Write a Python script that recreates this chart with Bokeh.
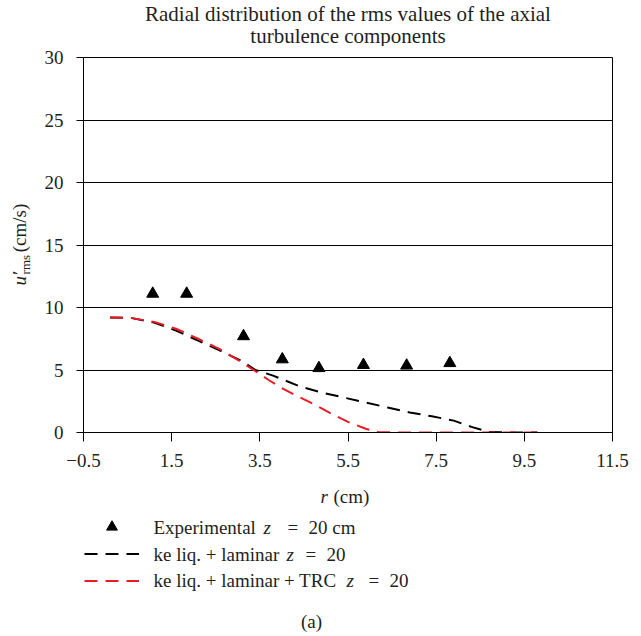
import math
from bokeh.plotting import figure
from bokeh.layouts import column, row
from bokeh.models import Range1d, Label, Legend, LegendItem, FixedTicker
from bokeh.core.properties import value
from bokeh.embed import file_html
from bokeh.resources import INLINE

# ---------------- data ----------------
exp_r = [1.07, 1.84, 3.13, 4.01, 4.84, 5.85, 6.83, 7.81]
exp_u = [11.1, 11.1, 7.7, 5.85, 5.15, 5.4, 5.35, 5.55]

lam_r = [0.1, 0.6, 1.1, 1.6, 2.1, 2.6, 3.1, 3.4, 3.8, 4.4, 4.9, 5.4, 5.9, 6.4,
         6.9, 7.4, 7.9, 8.3, 8.7, 9.1, 9.5, 9.8]
lam_u = [9.2, 9.15, 8.8, 8.15, 7.35, 6.55, 5.7, 5.0, 4.55, 3.7, 3.2, 2.8, 2.4, 2.0,
         1.6, 1.3, 0.95, 0.45, 0.05, 0.0, 0.0, 0.0]

trc_r = [0.1, 0.6, 1.1, 1.6, 2.1, 2.6, 3.1, 3.4, 3.7, 4.0, 4.3, 4.7, 5.1, 5.5,
         5.9, 6.2, 6.6, 7.5, 8.5, 9.8]
trc_u = [9.2, 9.15, 8.85, 8.3, 7.5, 6.65, 5.6, 4.9, 4.2, 3.55, 3.0, 2.3, 1.55, 0.85,
         0.3, 0.03, 0.0, 0.0, 0.0, 0.0]

x_ticks = [-0.5, 1.5, 3.5, 5.5, 7.5, 9.5, 11.5]
x_tick_labels = ["\u22120.5", "1.5", "3.5", "5.5", "7.5", "9.5", "11.5"]
y_ticks = [0, 5, 10, 15, 20, 25, 30]

title_lines = ["Radial distribution of the rms values of the axial",
               "turbulence components"]
legend_rows = [
    [("Experimental", 0, "normal"), ("z", 110, "italic"), ("=", 134, "normal"), ("20 cm", 155, "normal")],
    [("ke liq. + laminar", 0, "normal"), ("z", 133, "italic"), ("=", 152, "normal"), ("20", 173, "normal")],
    [("ke liq. + laminar + TRC", 0, "normal"), ("z", 193, "italic"), ("=", 215, "normal"), ("20", 236, "normal")],
]

# ---------------- layout (page pixels) ----------------
FONT = "Liberation Serif"
TXT = "#231f20"
RED = "#ed1c24"
W, H = 640, 634
FL, FR, FT, FB = 83, 612, 57, 432      # plot frame edges
TOP_H = 46                              # title strip height
YL_W = 40                               # y-label strip width
MAIN_BOTTOM = 43                        # tick-label room below frame
MAIN_H = (FB - TOP_H) + MAIN_BOTTOM
BOT_Y0 = TOP_H + MAIN_H                 # page y where bottom strip starts
BOT_H = H - BOT_Y0


def strip(width, height, x0, y0):
    """Axis-less figure whose data coordinates equal page pixels."""
    f = figure(width=width, height=height,
               x_range=Range1d(x0, x0 + width), y_range=Range1d(y0 + height, y0),
               x_axis_type=None, y_axis_type=None, output_backend="svg",
               toolbar_location=None, min_border=0)
    f.outline_line_color = None
    f.background_fill_color = "white"
    f.border_fill_color = "white"
    return f


def txt(f, x, y, text, size="19px", style="normal", align="left"):
    f.add_layout(Label(x=x, y=y, text=text, text_font=FONT, text_font_size=size,
                       text_font_style=style, text_color=TXT, text_align=align,
                       text_baseline="middle"))


# ---- title strip ----
top = strip(W, TOP_H, 0, 0)
for line, cy in zip(title_lines, [13, 35]):
    txt(top, (FL + FR) / 2, cy, line, size="21px", align="center")

# ---- y-label strip (rotated text glyphs, centre anchored) ----
ylab = strip(YL_W, MAIN_H, 0, TOP_H)
A = math.pi / 2
ylab_parts = [("u\u2032", 19, 299, "19px", "italic"),
              ("rms", 25, 283, "13px", "normal"),
              ("(cm/s)", 19, 241, "19px", "normal")]
for text, cx, cy, size, style in ylab_parts:
    ylab.text(x=[cx], y=[cy], text=[text], angle=A, text_font=value(FONT),
              text_font_size=value(size), text_font_style=style, text_color=TXT,
              text_align="center", text_baseline="middle")

# ---- main plot ----
p = figure(width=W - YL_W, height=MAIN_H, x_range=Range1d(-0.5, 11.5), y_range=Range1d(0, 30),
           output_backend="svg", toolbar_location=None,
           min_border_left=FL - YL_W, min_border_right=W - FR,
           min_border_top=FT - TOP_H, min_border_bottom=MAIN_BOTTOM)
p.background_fill_color = "white"
p.border_fill_color = "white"
p.outline_line_color = "black"
p.outline_line_width = 1
p.outline_line_alpha = 1

p.xaxis.ticker = FixedTicker(ticks=x_ticks)
p.xaxis.major_label_overrides = dict(zip(x_ticks, x_tick_labels))
p.yaxis.ticker = FixedTicker(ticks=y_ticks)
for ax in (p.xaxis, p.yaxis):
    ax.axis_line_color = "black"
    ax.major_tick_line_color = "black"
    ax.minor_tick_line_color = None
    ax.major_tick_in = 0
    ax.major_label_text_font = FONT
    ax.major_label_text_font_size = "19px"
    ax.major_label_text_color = TXT
p.xaxis.major_tick_out = 9
p.xaxis.major_label_standoff = 12
p.yaxis.major_tick_out = 7
p.yaxis.major_label_standoff = 13

p.xgrid.visible = False
p.ygrid.ticker = FixedTicker(ticks=y_ticks)
p.ygrid.grid_line_color = "black"
p.ygrid.grid_line_alpha = 1
p.ygrid.grid_line_width = 1

exp_style = dict(marker="triangle", size=12, color="black")
lam_style = dict(line_color="black", line_width=2, line_dash="13 8")
trc_style = dict(line_color=RED, line_width=2, line_dash="13 8")

p.scatter(exp_r, exp_u, **exp_style)
p.line(lam_r, lam_u, **lam_style)
p.line(trc_r, trc_u, **trc_style)

# ---- bottom strip: x-label, legend, caption ----
bot = strip(W, BOT_H, 0, BOT_Y0)
txt(bot, 320, 496, "r", style="italic")
txt(bot, 333, 496, "(cm)")

# legend proxies: same series, out of this strip's visible range
g_exp = bot.scatter(exp_r, exp_u, marker="triangle", size=9, color="black")
g_lam = bot.line(lam_r, lam_u, **lam_style)
g_trc = bot.line(trc_r, trc_u, **trc_style)
legend = Legend(items=[LegendItem(label=" ", renderers=[g_exp]),
                       LegendItem(label=" ", renderers=[g_lam]),
                       LegendItem(label=" ", renderers=[g_trc])],
                location=(84, H - 594), orientation="vertical",
                glyph_width=55, glyph_height=27, label_height=27, label_width=10,
                label_standoff=14, spacing=0, padding=0, margin=0,
                border_line_color=None, background_fill_alpha=0,
                label_text_font=FONT, label_text_font_size="19px", label_text_alpha=0)
bot.add_layout(legend)

for items, cy in zip(legend_rows, [527, 554, 580]):
    for text, off, style in items:
        txt(bot, 153 + off, cy, text, style=style)

txt(bot, 311, 621, "(a)", align="center")

layout = column(top, row(ylab, p), bot)
open("out.html", "w").write(file_html(layout, INLINE))
